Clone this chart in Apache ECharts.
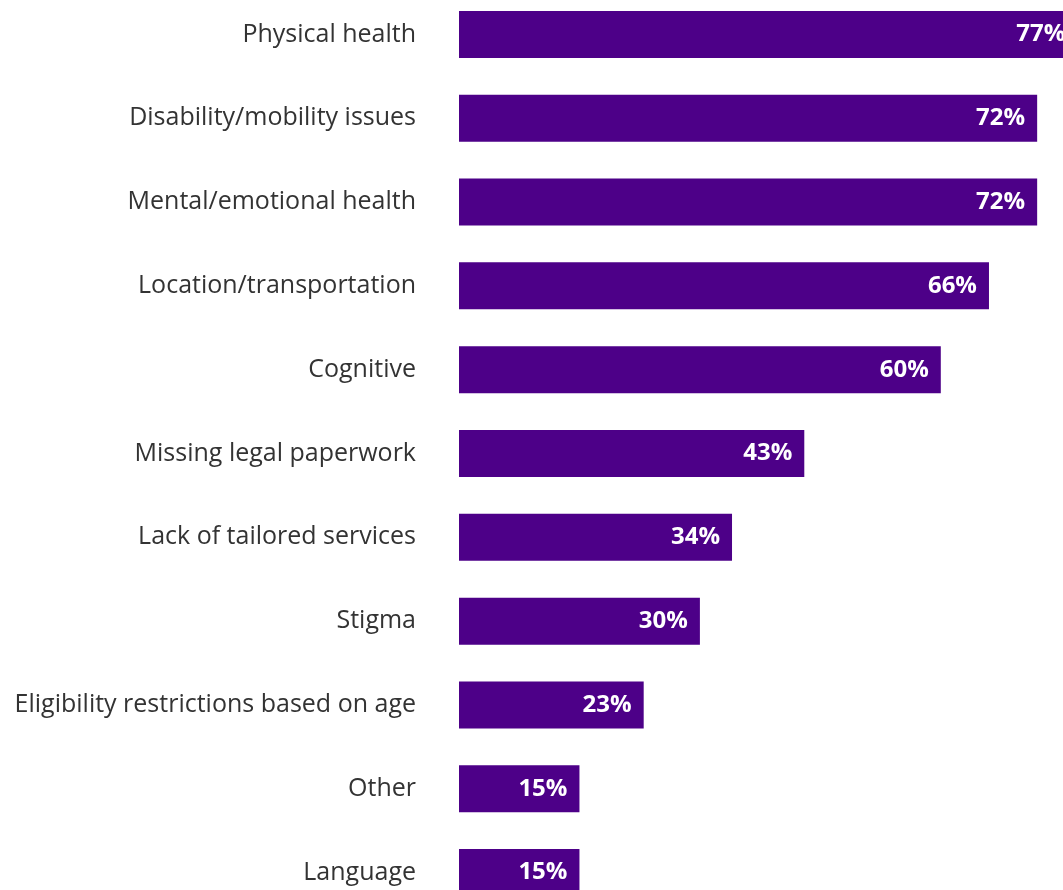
<!DOCTYPE html>
<html>
<head>
<meta charset="utf-8">
<script src="https://cdn.jsdelivr.net/npm/echarts@6/dist/echarts.min.js"></script>
<style>
  html, body { margin: 0; padding: 0; background: #fff; }
  #chart { width: 1063px; height: 890px; }
</style>
</head>
<body>
<div id="chart"></div>
<script>
// categories, top to bottom
var categories = [
    'Physical health',
    'Disability/mobility issues',
    'Mental/emotional health',
    'Location/transportation',
    'Cognitive',
    'Missing legal paperwork',
    'Lack of tailored services',
    'Stigma',
    'Eligibility restrictions based on age',
    'Other',
    'Language'
];
// percent values
var values = [77, 72, 72, 66, 60, 43, 34, 30, 23, 15, 15];

var myChart = echarts.init(document.getElementById('chart'));

var option = {
    animation: false,
    grid: {
        left: 459,
        top: -7.5,
        width: 803,
        height: 922,
        containLabel: false,
        outerBoundsMode: 'none'
    },
    xAxis: {
        type: 'value',
        min: 0,
        max: 100,
        show: false
    },
    yAxis: {
        type: 'category',
        inverse: true,
        data: categories,
        axisLine: { show: false },
        axisTick: { show: false },
        axisLabel: {
            margin: 43,
            color: '#333333',
            fontSize: 25,
            fontFamily: 'Open Sans'
        }
    },
    series: [{
        type: 'bar',
        data: values,
        barWidth: 47,
        itemStyle: { color: '#4D0088' },
        label: {
            show: true,
            position: 'insideRight',
            distance: 12,
            formatter: '{c}%',
            color: '#ffffff',
            fontWeight: 'bold',
            fontSize: 24,
            fontFamily: 'Open Sans'
        }
    }]
};

myChart.setOption(option, true);
</script>
</body>
</html>
